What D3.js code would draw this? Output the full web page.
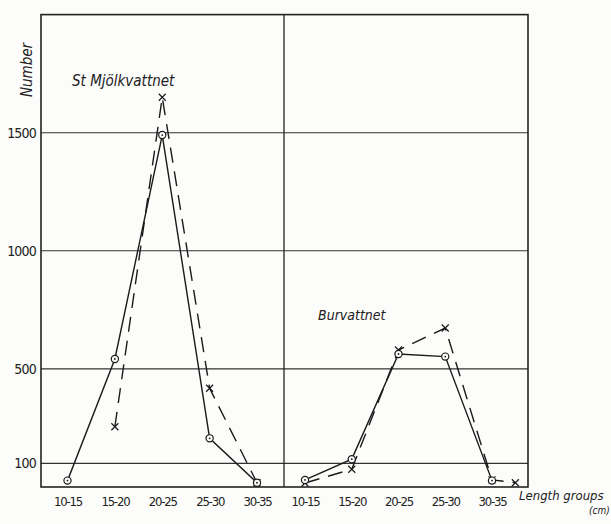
<!DOCTYPE html>
<html>
<head>
<meta charset="utf-8">
<script src="https://cdn.jsdelivr.net/npm/d3@7"></script>
<style>
  body { margin: 0; background: #fcfcfa; }
  svg { display: block; }
  text { fill: #222; font-family: "DejaVu Sans Condensed", "DejaVu Sans", sans-serif; }
</style>
</head>
<body>
<div class="chart"></div>
<script>
// length groups and y ticks
const groups = ['10-15', '15-20', '20-25', '25-30', '30-35'];
const yTicks = [100, 500, 1000, 1500];

// St Mjölkvattnet
const mjolkSolidIdx = [0, 1, 2, 3, 4];
const mjolkSolid = [27, 542, 1490, 206, 18];
const mjolkDashedIdx = [1, 2, 3, 4];
const mjolkDashed = [255, 1650, 418, 18];

// Burvattnet
const burSolidIdx = [0, 1, 2, 3, 4];
const burSolid = [30, 118, 563, 552, 27];
const burDashedIdx = [0, 1, 2, 3, 4, 4.5];
const burDashed = [17, 75, 580, 673, 30, 18];

let width = 611, height = 524;
let frame = { left: 41, right: 528, top: 14.6, bottom: 487, divider: 284 };

let svg = d3.select('.chart')
    .append('svg')
    .attr('width', width)
    .attr('height', height);

let y = d3.scaleLinear().domain([0, 2000]).range([frame.bottom, frame.top]);
let xLeft = d3.scaleLinear().domain([0, 4]).range([67.5, 257]);
let xRight = d3.scaleLinear().domain([0, 4]).range([305, 492]);

// grid lines
svg.append('g')
    .selectAll('line')
    .data(yTicks)
    .enter().append('line')
    .attr('x1', frame.left)
    .attr('x2', frame.right)
    .attr('y1', d => y(d))
    .attr('y2', d => y(d))
    .style('stroke', '#333')
    .style('stroke-width', 1.1);

// frame + divider
svg.append('rect')
    .attr('x', frame.left)
    .attr('y', frame.top)
    .attr('width', frame.right - frame.left)
    .attr('height', frame.bottom - frame.top)
    .style('fill', 'none')
    .style('stroke', '#222')
    .style('stroke-width', 1.6);

svg.append('line')
    .attr('x1', frame.divider).attr('x2', frame.divider)
    .attr('y1', frame.top).attr('y2', frame.bottom)
    .style('stroke', '#222')
    .style('stroke-width', 1.3);

// Y axis labels
let yAxis = d3.axisLeft(y).tickValues(yTicks).tickFormat(d3.format('d')).tickSize(0).tickPadding(5);
let gy = svg.append('g')
    .attr('transform', 'translate(' + frame.left + ',0)')
    .call(yAxis);
gy.select('.domain').remove();
gy.selectAll('text')
    .style('font-family', '"DejaVu Sans Condensed", sans-serif')
    .style('font-size', '14px')
    .style('letter-spacing', '-0.8px')
    .style('fill', '#222');

// X axis labels, one per panel
[xLeft, xRight].forEach(function (x) {
    let xAxis = d3.axisBottom(x)
        .tickValues([0, 1, 2, 3, 4])
        .tickFormat(i => groups[i])
        .tickSize(0)
        .tickPadding(10);
    let gx = svg.append('g')
        .attr('transform', 'translate(0,' + frame.bottom + ')')
        .call(xAxis);
    gx.select('.domain').remove();
    gx.selectAll('text')
        .style('font-family', '"DejaVu Sans Condensed", sans-serif')
        .style('font-size', '13px')
        .style('letter-spacing', '-1.2px')
        .style('fill', '#222');
});

function drawSeries(x, idx, vals, dashed) {
    let pts = idx.map((d, i) => [x(d), y(vals[i])]);
    let line = d3.line();
    svg.append('path')
        .attr('d', line(pts))
        .style('fill', 'none')
        .style('stroke', '#1a1a1a')
        .style('stroke-width', 1.4)
        .style('stroke-dasharray', dashed ? '15,9' : null);

    if (dashed) {
        // crosses
        let g = svg.append('g');
        pts.forEach(function (p) {
            g.append('path')
                .attr('d', 'M' + (p[0] - 3.5) + ',' + (p[1] - 3.5) + 'L' + (p[0] + 3.5) + ',' + (p[1] + 3.5) +
                    'M' + (p[0] + 3.5) + ',' + (p[1] - 3.5) + 'L' + (p[0] - 3.5) + ',' + (p[1] + 3.5))
                .style('stroke', '#1a1a1a')
                .style('stroke-width', 1.2);
        });
    } else {
        let g = svg.append('g');
        g.selectAll('circle.m')
            .data(pts)
            .enter().append('circle')
            .attr('cx', d => d[0])
            .attr('cy', d => d[1])
            .attr('r', 3.6)
            .style('fill', '#fcfcfa')
            .style('stroke', '#1a1a1a')
            .style('stroke-width', 1.2);
        g.selectAll('circle.c')
            .data(pts)
            .enter().append('circle')
            .attr('cx', d => d[0])
            .attr('cy', d => d[1])
            .attr('r', 0.9)
            .style('fill', '#1a1a1a');
    }
}

drawSeries(xLeft, mjolkDashedIdx, mjolkDashed, true);
drawSeries(xLeft, mjolkSolidIdx, mjolkSolid, false);
drawSeries(xRight, burDashedIdx, burDashed, true);
drawSeries(xRight, burSolidIdx, burSolid, false);

// titles / annotations
svg.append('text')
    .attr('transform', 'translate(32,70)rotate(-90)')
    .attr('text-anchor', 'middle')
    .style('font-style', 'italic')
    .style('font-size', '15px')
    .text('Number');

svg.append('text')
    .attr('x', 72)
    .attr('y', 86)
    .style('font-style', 'italic')
    .style('font-size', '15px')
    .text('St Mjölkvattnet');

svg.append('text')
    .attr('x', 318)
    .attr('y', 320)
    .style('font-style', 'italic')
    .style('font-size', '14px')
    .text('Burvattnet');

svg.append('text')
    .attr('x', 519)
    .attr('y', 500)
    .style('font-style', 'italic')
    .style('font-size', '13px')
    .text('Length groups');

svg.append('text')
    .attr('x', 589)
    .attr('y', 514)
    .style('font-style', 'italic')
    .style('font-size', '10px')
    .text('(cm)');
</script>
</body>
</html>
